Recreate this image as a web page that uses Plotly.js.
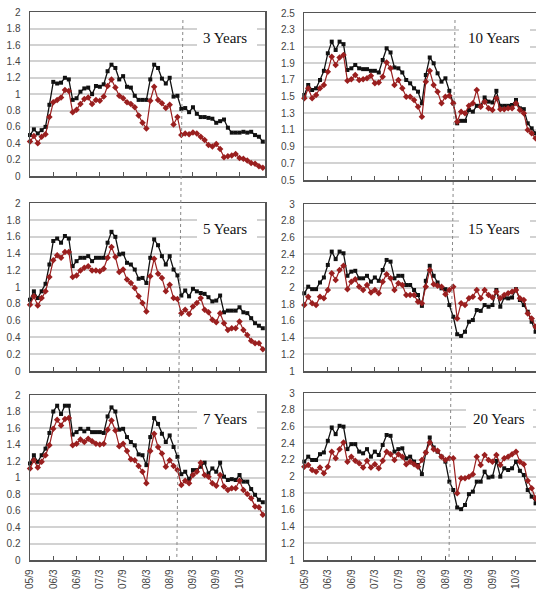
<!DOCTYPE html>
<html>
<head>
<meta charset="utf-8">
<script src="https://cdn.plot.ly/plotly-3.0.1.min.js"></script>
<style>html,body{margin:0;padding:0;background:#fff;}#chart{width:536px;height:598px;}</style>
</head>
<body>
<div id="chart"></div>
<script>
// ---- DATA ----
const months = ['05/9','05/10','05/11','05/12',
  '06/1','06/2','06/3','06/4','06/5','06/6','06/7','06/8','06/9','06/10','06/11','06/12',
  '07/1','07/2','07/3','07/4','07/5','07/6','07/7','07/8','07/9','07/10','07/11','07/12',
  '08/1','08/2','08/3','08/4','08/5','08/6','08/7','08/8','08/9','08/10','08/11','08/12',
  '09/1','09/2','09/3','09/4','09/5','09/6','09/7','09/8','09/9','09/10','09/11','09/12',
  '10/1','10/2','10/3','10/4','10/5','10/6','10/7','10/8','10/9'];
const tickLabels = ['05/9','06/3','06/9','07/3','07/9','08/3','08/9','09/3','09/9','10/3'];
const panelTitles = ['3 Years','10 Years','5 Years','15 Years','7 Years','20 Years'];

const y3Black = [0.50,0.57,0.52,0.56,0.60,0.87,1.15,1.13,1.14,1.20,1.18,0.93,0.95,1.03,1.07,1.08,1.00,1.10,1.09,1.12,1.28,1.36,1.32,1.18,1.22,1.09,1.08,0.98,0.93,0.93,0.93,1.18,1.36,1.32,1.19,1.13,1.20,0.97,0.98,0.82,0.83,0.78,0.84,0.76,0.72,0.72,0.71,0.70,0.65,0.67,0.69,0.59,0.53,0.53,0.53,0.54,0.53,0.54,0.50,0.48,0.42];
const y3Red   = [0.42,0.49,0.40,0.48,0.51,0.72,0.90,0.93,0.96,1.05,1.04,0.78,0.81,0.88,0.94,0.96,0.88,0.93,0.92,0.97,1.10,1.18,1.08,0.98,0.95,0.90,0.88,0.84,0.74,0.65,0.58,0.92,1.09,0.93,0.89,0.83,0.87,0.63,0.72,0.50,0.52,0.51,0.53,0.52,0.48,0.44,0.38,0.36,0.39,0.33,0.23,0.24,0.25,0.27,0.22,0.21,0.19,0.16,0.15,0.12,0.10];
const y10Black = [1.52,1.64,1.58,1.60,1.70,1.81,2.02,2.16,2.06,2.16,2.13,1.82,1.84,1.88,1.84,1.83,1.83,1.81,1.81,1.79,1.94,2.08,2.03,1.85,1.84,1.79,1.70,1.66,1.60,1.56,1.42,1.76,1.97,1.90,1.78,1.68,1.72,1.57,1.42,1.18,1.21,1.21,1.34,1.32,1.39,1.39,1.49,1.44,1.43,1.57,1.39,1.39,1.39,1.40,1.46,1.36,1.35,1.18,1.12,1.06,1.02];
const y10Red   = [1.48,1.60,1.48,1.52,1.60,1.64,1.80,1.98,1.88,1.97,2.00,1.69,1.71,1.76,1.70,1.71,1.72,1.75,1.66,1.67,1.74,1.91,1.84,1.64,1.70,1.60,1.50,1.50,1.46,1.38,1.26,1.68,1.81,1.64,1.56,1.42,1.50,1.51,1.42,1.20,1.32,1.30,1.39,1.42,1.58,1.38,1.44,1.36,1.34,1.48,1.35,1.35,1.36,1.36,1.42,1.34,1.30,1.10,1.06,1.00,0.97];
const y5Black = [0.85,0.95,0.87,0.95,1.04,1.27,1.55,1.58,1.53,1.61,1.58,1.25,1.31,1.35,1.35,1.37,1.31,1.35,1.35,1.35,1.53,1.66,1.60,1.39,1.40,1.29,1.27,1.21,1.10,1.11,1.05,1.35,1.57,1.50,1.37,1.27,1.37,1.21,1.14,0.90,0.96,0.89,0.98,0.95,0.93,0.92,0.88,0.83,0.84,0.90,0.70,0.72,0.72,0.72,0.76,0.70,0.69,0.63,0.57,0.54,0.51];
const y5Red   = [0.79,0.89,0.78,0.87,0.95,1.12,1.32,1.38,1.35,1.42,1.42,1.12,1.14,1.20,1.23,1.25,1.20,1.20,1.19,1.22,1.35,1.48,1.36,1.18,1.21,1.09,1.05,0.99,0.89,0.81,0.71,1.13,1.34,1.16,1.11,0.95,1.03,0.87,0.86,0.69,0.73,0.68,0.77,0.81,0.87,0.73,0.70,0.61,0.58,0.69,0.57,0.49,0.51,0.51,0.59,0.49,0.43,0.36,0.33,0.33,0.26];
const y15Black = [1.93,2.01,1.98,1.98,2.06,2.12,2.27,2.43,2.34,2.43,2.41,2.14,2.19,2.20,2.11,2.11,2.14,2.07,2.12,2.08,2.21,2.33,2.31,2.11,2.14,2.14,2.03,2.03,1.97,1.91,1.78,2.08,2.26,2.14,2.06,1.99,1.98,1.79,1.65,1.44,1.42,1.47,1.59,1.61,1.73,1.72,1.79,1.77,1.79,1.97,1.77,1.88,1.87,1.88,1.98,1.85,1.79,1.71,1.59,1.47,1.42];
const y15Red   = [1.79,1.89,1.81,1.79,1.89,1.87,1.97,2.17,2.09,2.21,2.26,1.98,2.07,2.10,2.01,1.97,2.03,1.94,1.97,1.93,2.07,2.16,2.11,1.97,2.05,2.03,1.91,1.91,1.91,1.83,1.81,2.01,2.21,2.04,2.02,2.01,1.92,1.97,2.01,1.63,1.81,1.79,1.87,1.89,1.97,1.87,1.97,1.91,1.88,1.95,1.87,1.91,1.93,1.95,1.97,1.87,1.85,1.69,1.63,1.53,1.48];
const y7Black = [1.17,1.27,1.19,1.27,1.35,1.54,1.80,1.87,1.77,1.87,1.87,1.52,1.55,1.59,1.56,1.59,1.55,1.55,1.55,1.54,1.74,1.85,1.80,1.58,1.59,1.49,1.43,1.39,1.28,1.27,1.15,1.49,1.72,1.65,1.53,1.43,1.51,1.37,1.25,1.04,1.07,0.98,1.09,1.09,1.13,1.18,1.05,1.11,1.07,1.18,1.01,0.97,0.98,0.97,1.03,0.95,0.95,0.86,0.79,0.73,0.70];
const y7Red   = [1.11,1.21,1.12,1.19,1.27,1.39,1.59,1.70,1.63,1.71,1.72,1.39,1.41,1.46,1.43,1.47,1.44,1.41,1.40,1.41,1.58,1.69,1.57,1.38,1.41,1.32,1.22,1.21,1.14,1.07,0.93,1.32,1.53,1.37,1.29,1.13,1.21,1.14,1.09,0.91,0.96,0.93,1.03,1.07,1.18,1.03,1.01,0.93,0.90,1.03,0.89,0.85,0.87,0.87,0.96,0.85,0.80,0.75,0.65,0.64,0.55];
const y20Black = [2.18,2.24,2.20,2.20,2.27,2.29,2.43,2.59,2.51,2.61,2.60,2.33,2.39,2.39,2.30,2.28,2.33,2.24,2.30,2.26,2.38,2.50,2.49,2.30,2.33,2.34,2.22,2.24,2.18,2.14,2.03,2.29,2.47,2.35,2.30,2.24,2.18,1.94,1.84,1.63,1.61,1.66,1.79,1.82,1.94,1.94,2.06,1.99,2.00,2.19,2.00,2.10,2.08,2.10,2.18,2.07,2.02,1.84,1.76,1.68,1.62];
const y20Red   = [2.12,2.14,2.08,2.06,2.11,2.04,2.12,2.30,2.22,2.33,2.41,2.18,2.24,2.19,2.16,2.11,2.19,2.11,2.15,2.10,2.19,2.30,2.27,2.20,2.27,2.24,2.15,2.18,2.15,2.12,2.20,2.29,2.41,2.33,2.31,2.24,2.20,2.22,2.22,1.80,1.98,1.98,2.00,2.03,2.24,2.14,2.26,2.20,2.18,2.26,2.14,2.22,2.24,2.27,2.30,2.18,2.15,1.95,1.86,1.74,1.70];

// ---- LAYOUT HELPERS ----
const W = 536, H = 598;
const fx = v => v / W, fy = v => 1 - v / H;

const panels = [
  {title: panelTitles[0], black: y3Black,  red: y3Red,  yr: [0, 2],   t0: 0,   xd: [30, 265],    yd: [12.3, 176],  right: false, box: [197, 257, 23, 51],   tx: [225, 37.5], bottom: false},
  {title: panelTitles[1], black: y10Black, red: y10Red, yr: [0.5, 2.5], t0: 0.5, xd: [304.3, 536], yd: [13.3, 180],  right: true,  box: [459, 530, 23, 52],   tx: [494, 37.5], bottom: false},
  {title: panelTitles[2], black: y5Black,  red: y5Red,  yr: [0, 2],   t0: 0,   xd: [30, 265],    yd: [203.3, 371], right: false, box: [197, 257, 214, 242], tx: [225, 229],  bottom: false},
  {title: panelTitles[3], black: y15Black, red: y15Red, yr: [1, 3],   t0: 1,   xd: [304.3, 536], yd: [204, 371],   right: true,  box: [459, 530, 214, 242], tx: [494, 229],  bottom: false},
  {title: panelTitles[4], black: y7Black,  red: y7Red,  yr: [0, 2],   t0: 0,   xd: [30, 265],    yd: [395, 560],   right: false, box: [197, 257, 405, 433], tx: [225, 419],  bottom: true},
  {title: panelTitles[5], black: y20Black, red: y20Red, yr: [1, 3],   t0: 1,   xd: [304.3, 536], yd: [393.3, 560], right: true,  box: [466, 533, 404, 432], tx: [499, 419],  bottom: true}
];

const traces = [];
const layout = {
  width: W, height: H,
  margin: {l: 0, r: 0, t: 0, b: 0, pad: 0},
  paper_bgcolor: '#fff', plot_bgcolor: '#fff',
  showlegend: false,
  shapes: [], annotations: []
};

const axisLine = '#555';
panels.forEach((p, i) => {
  const n = i + 1;
  const xa = 'x' + (i === 0 ? '' : n), ya = 'y' + (i === 0 ? '' : n);
  traces.push({
    x: months, y: p.black, xaxis: xa, yaxis: ya, type: 'scatter', mode: 'lines+markers',
    line: {color: '#111', width: 1.3}, marker: {symbol: 'square', size: 4, color: '#111'},
    cliponaxis: false, hoverinfo: 'skip'
  });
  traces.push({
    x: months, y: p.red, xaxis: xa, yaxis: ya, type: 'scatter', mode: 'lines+markers',
    line: {color: '#9a1f1f', width: 1.2}, marker: {symbol: 'diamond', size: 5, color: '#9a1f1f'},
    cliponaxis: false, hoverinfo: 'skip'
  });
  const xRange = p.right ? [0, (536 - 304.3) / 3.92] : [0, 235 / 3.88];
  layout['xaxis' + (i === 0 ? '' : n)] = {
    domain: [fx(p.xd[0]), fx(p.xd[1])],
    anchor: ya,
    type: 'category', categoryorder: 'array', categoryarray: months,
    range: xRange,
    tickmode: 'array', tickvals: tickLabels, ticktext: tickLabels,
    showticklabels: p.bottom, tickangle: -90,
    tickfont: {family: 'Liberation Sans Narrow, Liberation Sans, Arial', size: 10, color: '#444'},
    ticks: 'inside', ticklen: 4, tickcolor: axisLine, tickwidth: 1,
    ticklabelstandoff: 4,
    showgrid: false, zeroline: false,
    showline: true, linecolor: axisLine, linewidth: 1.5, mirror: true,
    fixedrange: true
  };
  layout['yaxis' + (i === 0 ? '' : n)] = {
    domain: [fy(p.yd[1]), fy(p.yd[0])],
    anchor: xa,
    range: p.yr, tick0: p.t0, dtick: 0.2,
    tickfont: {family: 'Liberation Sans Narrow, Liberation Sans, Arial', size: 10, color: '#444'},
    ticks: '', ticklabelstandoff: 6,
    showgrid: true, gridcolor: '#d2d2d2', gridwidth: 2,
    zeroline: false,
    showline: true, linecolor: axisLine, linewidth: 1.5, mirror: !p.right,
    fixedrange: true
  };
  layout.shapes.push({
    type: 'rect', xref: 'paper', yref: 'paper', layer: 'above',
    x0: fx(p.box[0]), x1: fx(p.box[1]), y0: fy(p.box[3]), y1: fy(p.box[2]),
    fillcolor: '#fff', line: {width: 0}
  });
  layout.annotations.push({
    xref: 'paper', yref: 'paper', x: fx(p.tx[0]), y: fy(p.tx[1]),
    xanchor: 'center', yanchor: 'middle', showarrow: false,
    text: p.title,
    font: {family: 'Liberation Serif, Times New Roman, serif', size: 15, color: '#111'}
  });
});

// dotted separator lines (drawn across the stacked panels)
layout.shapes.push({type: 'line', xref: 'paper', yref: 'paper', layer: 'above',
  x0: fx(182.9), y0: fy(20), x1: fx(176.8), y1: fy(560), line: {color: '#888', width: 1, dash: 'dot'}});
layout.shapes.push({type: 'line', xref: 'paper', yref: 'paper', layer: 'above',
  x0: fx(455), y0: fy(20), x1: fx(449), y1: fy(560), line: {color: '#888', width: 1, dash: 'dot'}});

Plotly.newPlot('chart', traces, layout, {displayModeBar: false, staticPlot: true});
</script>
</body>
</html>
